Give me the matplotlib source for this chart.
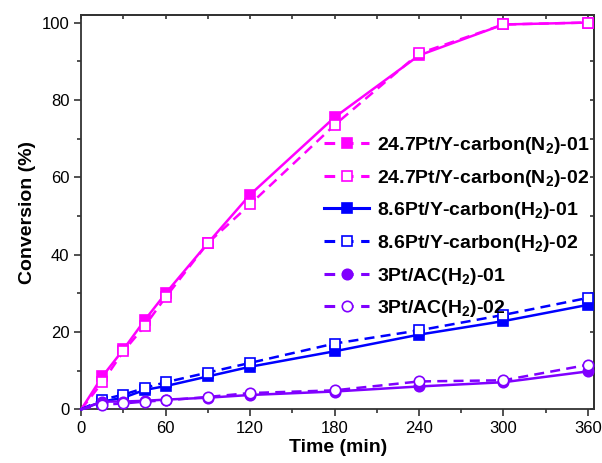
import matplotlib.pyplot as plt
from matplotlib.lines import Line2D
from matplotlib.ticker import MultipleLocator

plt.rcParams['font.family'] = ['Liberation Sans', 'DejaVu Sans']
plt.rcParams['mathtext.fontset'] = 'custom'
plt.rcParams['mathtext.rm'] = 'Liberation Sans'
plt.rcParams['mathtext.bf'] = 'Liberation Sans:bold'

# time points (min)
t = [0, 15, 30, 45, 60, 90, 120, 180, 240, 300, 360]

# conversion (%)
pt247_n2_01 = [0, 8.5, 15.5, 23, 30, 43, 55.5, 75.5, 91.5, 99.5, 100]
pt247_n2_02 = [0, 7, 15, 21.5, 29, 43, 53, 73.5, 92, 99.5, 100]
pt86_h2_01 = [0, 2, 3, 5, 6, 8.5, 11, 15, 19.3, 22.8, 27]
pt86_h2_02 = [0, 2.5, 3.8, 5.5, 7, 9.5, 12, 17, 20.4, 24.4, 28.8]
pt3_ac_01 = [0, 2, 2, 2.2, 2.5, 3, 3.7, 4.6, 5.9, 7, 9.8]
pt3_ac_02 = [0, 1.2, 1.5, 2, 2.3, 3.2, 4.2, 4.9, 7.2, 7.5, 11.5]

labels = ['24.7Pt/Y-carbon(N$_\\mathbf{2}$)-01', '24.7Pt/Y-carbon(N$_\\mathbf{2}$)-02',
          '8.6Pt/Y-carbon(H$_\\mathbf{2}$)-01', '8.6Pt/Y-carbon(H$_\\mathbf{2}$)-02',
          '3Pt/AC(H$_\\mathbf{2}$)-01', '3Pt/AC(H$_\\mathbf{2}$)-02']

magenta = '#FF00FF'
blue = '#0000FF'
violet = '#8000FF'

fig = plt.figure(figsize=(6.02, 4.63), dpi=100)
ax = fig.add_axes([0.135, 0.116, 0.852, 0.852])

series = [
    (pt247_n2_01, magenta, '-', 's', True),
    (pt247_n2_02, magenta, '--', 's', False),
    (pt86_h2_01, blue, '-', 's', True),
    (pt86_h2_02, blue, '--', 's', False),
    (pt3_ac_01, violet, '-', 'o', True),
    (pt3_ac_02, violet, '--', 'o', False),
]

for y, c, ls, mk, filled in series:
    ax.plot(t, y, color=c, ls=ls, lw=1.8, dashes=(4, 2.5) if ls == '--' else (None, None),
            marker=mk, ms=7.5, mfc=c if filled else 'white', mec=c, mew=1.2,
            markevery=list(range(1, len(t))), clip_on=False, zorder=3)

# legend proxies (Origin style handles)
handles = []
for i, (y, c, ls, mk, filled) in enumerate(series):
    style = '-' if i == 2 else '--'
    handles.append(Line2D([], [], color=c, ls=style, lw=2.2, dashes=(3.5, 2.5) if style == '--' else (None, None),
                          marker=mk, ms=7.5, mfc=c if filled else 'white', mec=c, mew=1.2))
leg = ax.legend(handles, labels, loc='center left', bbox_to_anchor=(0.474, 0.462), frameon=False,
                prop={'weight': 'bold', 'size': 14}, handlelength=2.3, handletextpad=0.4,
                labelspacing=0.6, borderaxespad=0, borderpad=0)

ax.set_xlim(0, 364.5)
ax.set_ylim(0, 102)
ax.xaxis.set_major_locator(MultipleLocator(60))
ax.xaxis.set_minor_locator(MultipleLocator(30))
ax.yaxis.set_major_locator(MultipleLocator(20))
ax.yaxis.set_minor_locator(MultipleLocator(10))
ax.tick_params(which='major', direction='out', length=5, width=1.2, labelsize=12, colors='#333333', labelcolor='black')
ax.tick_params(which='minor', direction='out', length=3, width=1.2, colors='#333333')

top = ax.secondary_xaxis('top')
top.xaxis.set_major_locator(MultipleLocator(30))
top.tick_params(direction='in', length=3, width=1.2, labeltop=False, colors='#333333')
right = ax.secondary_yaxis('right')
right.yaxis.set_major_locator(MultipleLocator(10))
right.tick_params(direction='in', length=3, width=1.2, labelright=False, colors='#333333')

for s in ax.spines.values():
    s.set_linewidth(1.3)
    s.set_color('#333333')
top.spines['top'].set_linewidth(1.3)
top.spines['top'].set_color('#333333')
right.spines['right'].set_linewidth(1.3)
right.spines['right'].set_color('#333333')

ax.set_xlabel('Time (min)', fontsize=14, fontweight='bold', labelpad=2)
ax.set_ylabel('Conversion (%)', fontsize=14, fontweight='bold', labelpad=4)

fig.savefig('out.png', dpi=100)
